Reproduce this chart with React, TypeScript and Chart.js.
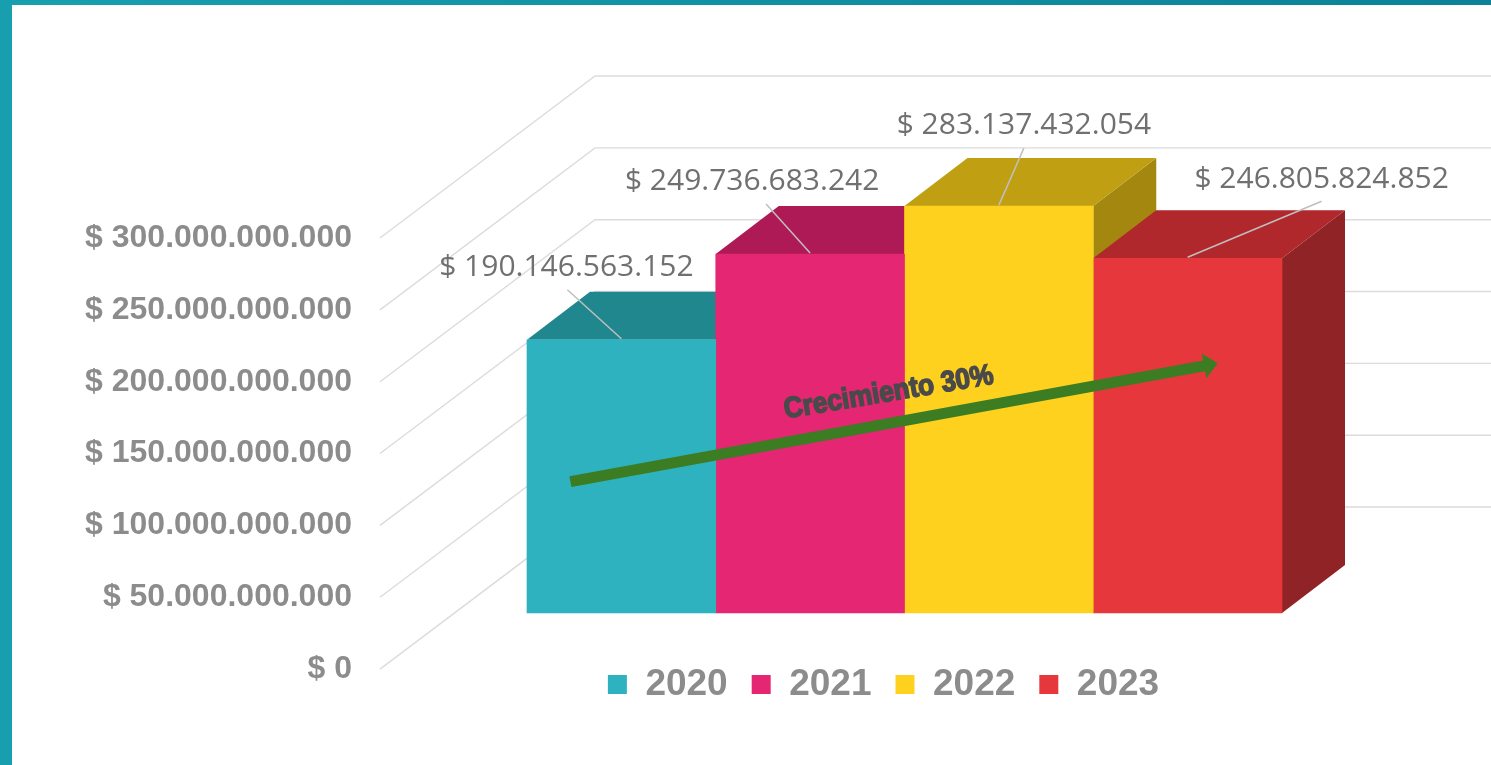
import React, { useEffect, useRef } from 'react';
import { Chart, registerables } from 'chart.js';

Chart.register(...registerables);

// ---------- data ----------
const years = ['2020', '2021', '2022', '2023'];
const values = [190146563152, 249736683242, 283137432054, 246805824852];
const axisTicks = [0, 50e9, 100e9, 150e9, 200e9, 250e9, 300e9];
const growthText = 'Crecimiento 30%';

// ---------- styles ----------
const frontColors = ['#2fb2bf', '#e52673', '#fed11f', '#e5373c'];
const topColors = ['#20878f', '#ad1a55', '#c19f13', '#b0272c'];
const sideColors = ['#1d7a82', '#9c1a4d', '#a3870f', '#8f2326'];

const W = 1491;
const H = 765;
const PLOT_TOP = 238;
const PLOT_BOTTOM = 641;
const LABEL_ZERO_PX = 668; // zero on the front (axis) plane
const BAR_ZERO_PX = 612; // zero on the bar front plane
const PX_PER_UNIT = 430 / 300e9;
const DEPTH = { dx: 63, dy: -48 };
const WALL = { frontOffset: -147, dx: 215, dy: -162 };
const LABEL_OFFSETS = [[-55, -72], [-58, -73], [25, -81], [134, -79]];
const LEADER_START = [[1, 22], [14, 23], [0, 23], [0, 22]];
const ARROW = { from: { bar: 0, fx: 0.23, value: 91.4e9 }, to: { bar: 3, fx: 0.66, value: 173.7e9 } };
const LEGEND_SHIFT = -21;

const fmt = (v: number) => '$ ' + Math.round(v).toString().replace(/\B(?=(\d{3})+(?!\d))/g, '.');

const threeD = {
  id: 'threeD',
  beforeDraw(chart: any) {
    const { ctx } = chart;
    ctx.save();
    ctx.fillStyle = '#ffffff';
    ctx.fillRect(0, 0, W, H);
    const g = ctx.createLinearGradient(0, 0, W, 0);
    g.addColorStop(0, '#179fb0');
    g.addColorStop(1, '#0b8299');
    ctx.fillStyle = g;
    ctx.fillRect(0, 0, W, 5);
    ctx.fillStyle = '#179fb0';
    ctx.fillRect(0, 0, 12, H);
    ctx.restore();
  },
  afterLayout(chart: any) {
    const lg = chart.legend;
    if (lg) {
      lg.left += LEGEND_SHIFT;
      lg.right += LEGEND_SHIFT;
    }
  },
  beforeDatasetsDraw(chart: any) {
    const { ctx, chartArea } = chart;
    const ys = chart.scales.y;
    ctx.save();
    // walls / gridlines
    ctx.strokeStyle = '#dcdcdc';
    ctx.lineWidth = 1.4;
    const fx = chartArea.left + WALL.frontOffset;
    for (const v of axisTicks) {
      const fy = ys.getPixelForValue(v);
      ctx.beginPath();
      ctx.moveTo(fx, fy);
      ctx.lineTo(fx + WALL.dx, fy + WALL.dy);
      ctx.lineTo(W, fy + WALL.dy);
      ctx.stroke();
    }
    // side & top faces, left to right
    for (let i = 0; i < years.length; i++) {
      const el: any = chart.getDatasetMeta(i).data[0];
      if (!el) continue;
      const { x, y, base, width } = el.getProps(['x', 'y', 'base', 'width'], true);
      const l = x - width / 2;
      const r = x + width / 2;
      ctx.fillStyle = sideColors[i];
      ctx.beginPath();
      ctx.moveTo(r, y);
      ctx.lineTo(r + DEPTH.dx, y + DEPTH.dy);
      ctx.lineTo(r + DEPTH.dx, base + DEPTH.dy);
      ctx.lineTo(r, base);
      ctx.closePath();
      ctx.fill();
      ctx.fillStyle = topColors[i];
      ctx.beginPath();
      ctx.moveTo(l, y);
      ctx.lineTo(l + DEPTH.dx, y + DEPTH.dy);
      ctx.lineTo(r + DEPTH.dx, y + DEPTH.dy);
      ctx.lineTo(r, y);
      ctx.closePath();
      ctx.fill();
    }
    ctx.restore();
  },
  afterDatasetsDraw(chart: any) {
    const { ctx } = chart;
    const yb = chart.scales.yb;
    ctx.save();
    // data labels with leader lines
    ctx.font = '500 30px "Open Sans", "DejaVu Sans", sans-serif';
    ctx.textAlign = 'center';
    ctx.textBaseline = 'middle';
    for (let i = 0; i < years.length; i++) {
      const el: any = chart.getDatasetMeta(i).data[0];
      if (!el) continue;
      const { x, y } = el.getProps(['x', 'y'], true);
      const lx = x + LABEL_OFFSETS[i][0];
      const ly = y + LABEL_OFFSETS[i][1];
      ctx.strokeStyle = '#bfbfbf';
      ctx.lineWidth = 1.5;
      ctx.beginPath();
      ctx.moveTo(lx + LEADER_START[i][0], ly + LEADER_START[i][1]);
      ctx.lineTo(x, y - 1);
      ctx.stroke();
      ctx.fillStyle = '#707070';
      ctx.fillText(fmt(values[i]), lx, ly);
    }
    // growth arrow
    const pt = (p: any) => {
      const el: any = chart.getDatasetMeta(p.bar).data[0];
      const { x, width } = el.getProps(['x', 'width'], true);
      return { x: x - width / 2 + p.fx * width, y: yb.getPixelForValue(p.value) };
    };
    const a = pt(ARROW.from);
    const b = pt(ARROW.to);
    const len = Math.hypot(b.x - a.x, b.y - a.y);
    const ux = (b.x - a.x) / len;
    const uy = (b.y - a.y) / len;
    const nx = -uy;
    const ny = ux;
    const sw = 5.5;
    const hw = 12.5;
    const hl = 14;
    const hb = { x: b.x - ux * hl, y: b.y - uy * hl };
    ctx.fillStyle = '#3c7d23';
    ctx.beginPath();
    ctx.moveTo(a.x + nx * sw, a.y + ny * sw);
    ctx.lineTo(hb.x + nx * sw, hb.y + ny * sw);
    ctx.lineTo(hb.x + nx * hw, hb.y + ny * hw);
    ctx.lineTo(b.x, b.y);
    ctx.lineTo(hb.x - nx * hw, hb.y - ny * hw);
    ctx.lineTo(hb.x - nx * sw, hb.y - ny * sw);
    ctx.lineTo(a.x - nx * sw, a.y - ny * sw);
    ctx.closePath();
    ctx.fill();
    // growth text
    const mx = (a.x + b.x) / 2 - nx * 30;
    const my = (a.y + b.y) / 2 - ny * 30;
    ctx.translate(mx, my);
    ctx.rotate(Math.atan2(uy, ux) + 0.015);
    ctx.font = 'bold 29px "Liberation Sans", Arial, sans-serif';
    const tw = ctx.measureText(growthText).width;
    ctx.scale(212 / tw, 1);
    ctx.fillStyle = '#4a4a4a';
    ctx.strokeStyle = '#4a4a4a';
    ctx.lineWidth = 1.6;
    ctx.textAlign = 'center';
    ctx.textBaseline = 'middle';
    ctx.fillText(growthText, 0, 0);
    ctx.strokeText(growthText, 0, 0);
    ctx.restore();
  },
};

export default function App() {
  const ref = useRef<HTMLCanvasElement | null>(null);
  useEffect(() => {
    if (!ref.current) return;
    Chart.defaults.font.family = '"Liberation Sans", Arial, sans-serif';
    const chart = new Chart(ref.current, {
      type: 'bar',
      data: {
        labels: [''],
        datasets: years.map((yr, i) => ({
          label: yr,
          data: [values[i]],
          backgroundColor: frontColors[i],
          borderWidth: 0,
          yAxisID: 'yb',
          clip: false as any,
          categoryPercentage: 1,
          barPercentage: 1,
        })),
      },
      options: {
        responsive: false,
        animation: false,
        layout: { padding: { top: PLOT_TOP, bottom: 52, left: 0, right: 209 } },
        plugins: {
          tooltip: { enabled: false },
          legend: {
            position: 'bottom',
            fullSize: false,
            labels: {
              boxWidth: 19,
              boxHeight: 19,
              padding: 24,
              color: '#8c8c8c',
              font: { size: 37, weight: 'bold' },
            },
          },
        },
        scales: {
          x: { display: false },
          y: {
            position: 'left',
            min: (LABEL_ZERO_PX - PLOT_BOTTOM) / PX_PER_UNIT,
            max: (LABEL_ZERO_PX - PLOT_TOP) / PX_PER_UNIT,
            afterBuildTicks: (s: any) => {
              s.ticks = axisTicks.map((v) => ({ value: v }));
            },
            afterFit: (s: any) => {
              s.width = 527;
              s.paddingTop = 0;
              s.paddingBottom = 0;
              s.paddingLeft = 0;
              s.paddingRight = 0;
            },
            grid: { display: false, drawTicks: false },
            border: { display: false },
            ticks: {
              autoSkip: false,
              padding: 175,
              color: '#8c8c8c',
              font: { size: 32, weight: 'bold' },
              callback: (v: any) => fmt(Number(v)),
            },
          },
          yb: {
            display: false,
            min: -(PLOT_BOTTOM - BAR_ZERO_PX) / PX_PER_UNIT,
            max: (BAR_ZERO_PX - PLOT_TOP) / PX_PER_UNIT,
          },
        },
      } as any,
      plugins: [threeD],
    });
    return () => chart.destroy();
  }, []);
  return (
    <div style={{ position: 'fixed', left: 0, top: 0, width: W, height: H, background: '#fff' }}>
      <canvas ref={ref} width={W} height={H} style={{ display: 'block' }} />
    </div>
  );
}
